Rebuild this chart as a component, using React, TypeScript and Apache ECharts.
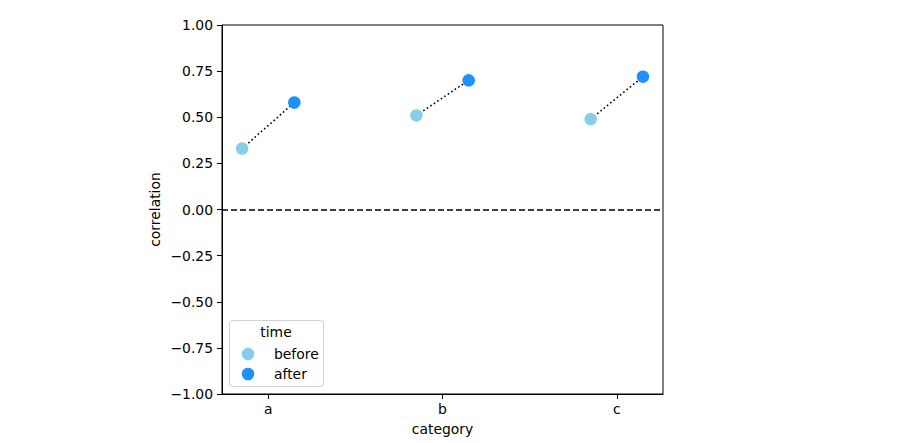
import React, { useEffect, useRef } from "react";
import * as echarts from "echarts";

// Paired correlations per category, measured before and after.
const categories = ["a", "b", "c"];
const beforeValues = [0.33, 0.51, 0.49];
const afterValues = [0.58, 0.7, 0.72];
const yTicks = [-1, -0.75, -0.5, -0.25, 0, 0.25, 0.5, 0.75, 1];
const legendTitle = "time";
const groupNames = ["before", "after"];

const BEFORE_COLOR = "#87CEEB";
const AFTER_COLOR = "#1E90FF";
const FONT = "DejaVu Sans";
const FS = 13.9;
const DODGE = 0.15;

const fmt = (v: number) => {
  const s = Math.abs(v).toFixed(2);
  return v < 0 ? "\u2212" + s : s;
};

export default function App() {
  const ref = useRef<HTMLDivElement>(null);

  useEffect(() => {
    if (!ref.current) return;
    const chart = echarts.init(ref.current, null, { renderer: "svg" });

    const pairLines = categories.map((_, i) => ({
      type: "line",
      data: [
        [i - DODGE, beforeValues[i]],
        [i + DODGE, afterValues[i]],
      ],
      symbol: "none",
      lineStyle: { color: "#000", width: 1.6, type: [1.6, 2.6] },
      z: 2,
      silent: true,
    }));

    const legendX = 229;
    const legendY = 320;
    const font = `${FS}px "${FONT}"`;

    chart.setOption({
      animation: false,
      textStyle: { fontFamily: FONT },
      grid: {
        left: 222,
        top: 25,
        width: 441,
        height: 369,
        show: true,
        borderColor: "#000",
        borderWidth: 1,
        backgroundColor: "transparent",
      },
      xAxis: {
        type: "value",
        min: -0.265,
        max: 2.265,
        name: "category",
        nameLocation: "middle",
        nameGap: 28,
        nameTextStyle: { color: "#000", fontSize: FS, fontFamily: FONT },
        splitLine: { show: false },
        axisLine: { show: true, onZero: false, lineStyle: { color: "#000", width: 1 } },
        axisTick: {
          show: true,
          length: 5,
          customValues: [0, 1, 2],
          lineStyle: { color: "#000" },
        },
        axisLabel: {
          customValues: [0, 1, 2],
          formatter: (v: number) => categories[Math.round(v)] ?? "",
          color: "#000",
          fontSize: FS,
          fontFamily: FONT,
          margin: 8,
        },
      },
      yAxis: {
        type: "value",
        min: -1,
        max: 1,
        interval: 0.25,
        name: "correlation",
        nameLocation: "middle",
        nameGap: 60,
        nameTextStyle: { color: "#000", fontSize: FS, fontFamily: FONT },
        splitLine: { show: false },
        axisLine: { show: true, onZero: false, lineStyle: { color: "#000", width: 1 } },
        axisTick: { show: true, length: 5, lineStyle: { color: "#000" } },
        axisLabel: {
          customValues: yTicks,
          formatter: (v: number) => fmt(v),
          color: "#000",
          fontSize: FS,
          fontFamily: FONT,
          margin: 9,
        },
      },
      series: [
        ...pairLines,
        {
          name: groupNames[0],
          type: "scatter",
          data: beforeValues.map((v, i) => [i - DODGE, v]),
          symbolSize: 12.5,
          itemStyle: { color: BEFORE_COLOR, opacity: 1 },
          z: 3,
          markLine: {
            silent: true,
            symbol: "none",
            label: { show: false },
            lineStyle: { color: "#000", width: 1.6, type: [6, 3] },
            data: [{ yAxis: 0 }],
          },
        },
        {
          name: groupNames[1],
          type: "scatter",
          data: afterValues.map((v, i) => [i + DODGE, v]),
          symbolSize: 12.5,
          itemStyle: { color: AFTER_COLOR, opacity: 1 },
          z: 3,
        },
      ],
      graphic: [
        {
          type: "group",
          z: 100,
          children: [
            {
              type: "rect",
              shape: { x: legendX + 0.5, y: legendY + 0.5, width: 94, height: 66, r: 3 },
              style: { fill: "rgba(255,255,255,0.8)", stroke: "#d0d0d0", lineWidth: 1 },
            },
            {
              type: "text",
              x: legendX + 47,
              y: legendY + 12,
              style: {
                text: legendTitle,
                fill: "#000",
                font,
                align: "center",
                verticalAlign: "middle",
              },
            },
            {
              type: "circle",
              shape: { cx: legendX + 19, cy: legendY + 34, r: 6.25 },
              style: { fill: BEFORE_COLOR },
            },
            {
              type: "text",
              x: legendX + 45,
              y: legendY + 34,
              style: {
                text: groupNames[0],
                fill: "#000",
                font,
                align: "left",
                verticalAlign: "middle",
              },
            },
            {
              type: "circle",
              shape: { cx: legendX + 19, cy: legendY + 54, r: 6.25 },
              style: { fill: AFTER_COLOR },
            },
            {
              type: "text",
              x: legendX + 45,
              y: legendY + 54,
              style: {
                text: groupNames[1],
                fill: "#000",
                font,
                align: "left",
                verticalAlign: "middle",
              },
            },
          ],
        },
      ],
    });

    return () => chart.dispose();
  }, []);

  return (
    <div
      ref={ref}
      style={{ position: "fixed", left: 0, top: 0, width: 897, height: 443, background: "#fff" }}
    />
  );
}
